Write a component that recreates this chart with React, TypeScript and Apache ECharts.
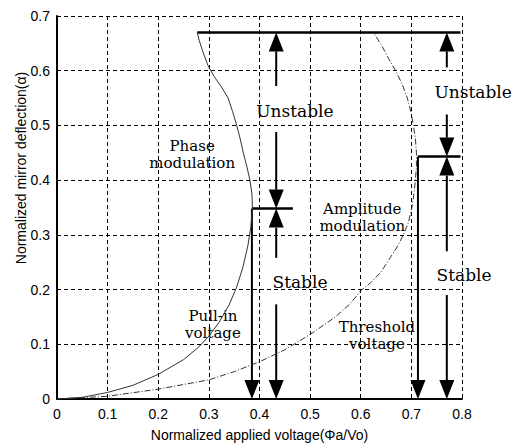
import React, { useEffect, useRef } from "react";
import * as echarts from "echarts";

// Pull-in (phase modulation) curve: [voltage, deflection]
const phaseCurve: number[][] = [
  [0, 0], [0.05, 0.003], [0.1, 0.012], [0.15, 0.025], [0.2, 0.045], [0.25, 0.072],
  [0.28, 0.095], [0.3, 0.115], [0.32, 0.14], [0.34, 0.172], [0.355, 0.205],
  [0.367, 0.24], [0.377, 0.28], [0.383, 0.315], [0.386, 0.35], [0.385, 0.375],
  [0.381, 0.4], [0.375, 0.425], [0.368, 0.45], [0.362, 0.475], [0.355, 0.5],
  [0.347, 0.525], [0.338, 0.55], [0.325, 0.57], [0.31, 0.59], [0.298, 0.61],
  [0.288, 0.635], [0.281, 0.655], [0.277, 0.67],
];

// Threshold (amplitude modulation) curve
const thresholdCurve: number[][] = [
  [0, 0], [0.1, 0.005], [0.2, 0.018], [0.3, 0.035], [0.35, 0.05], [0.4, 0.068],
  [0.45, 0.09], [0.5, 0.118], [0.55, 0.15], [0.58, 0.175], [0.6, 0.198],
  [0.62, 0.213], [0.64, 0.232], [0.658, 0.258], [0.672, 0.278], [0.684, 0.3],
  [0.694, 0.322], [0.701, 0.35], [0.705, 0.375], [0.708, 0.4], [0.71, 0.425],
  [0.71, 0.45], [0.708, 0.475], [0.704, 0.5], [0.699, 0.525], [0.692, 0.55],
  [0.682, 0.575], [0.669, 0.6], [0.655, 0.622], [0.642, 0.645], [0.625, 0.67],
];

// Arrows: [x, yFrom, yTo] (head at yTo)
const arrows: number[][] = [
  [0.433, 0.572, 0.67], [0.433, 0.488, 0.348], [0.433, 0.258, 0.348], [0.433, 0.173, 0],
  [0.385, 0.348, 0], [0.713, 0.443, 0],
  [0.77, 0.606, 0.67], [0.77, 0.52, 0.443], [0.77, 0.27, 0.443], [0.77, 0.19, 0],
];

// Horizontal segments: [x1, y, x2]
const segments: number[][] = [
  [0.277, 0.67, 0.797],
  [0.385, 0.348, 0.466],
  [0.713, 0.443, 0.797],
];

// Annotations: [x, y]
const labelPos: number[][] = [
  [0.47, 0.527], [0.48, 0.214], [0.822, 0.561], [0.804, 0.227],
  [0.267, 0.446], [0.603, 0.332], [0.308, 0.136], [0.632, 0.116],
];
const labelText: string[] = [
  "Unstable", "Stable", "Unstable", "Stable",
  "Phase\nmodulation", "Amplitude\nmodulation", "Pull-in\nvoltage", "Threshold\nvoltage",
];
const labelSize: number[] = [17, 17, 17, 17, 15, 15, 15, 15];

const xAxisName = "Normalized applied voltage(\u03A6a/Vo)";
const yAxisName = "Normalized mirror deflection(\u03B1)";

const tickFont = "'Liberation Sans', Arial, sans-serif";
const serifFont = "'DejaVu Serif', 'Liberation Serif', serif";

export default function App() {
  const ref = useRef<HTMLDivElement>(null);
  useEffect(() => {
    if (!ref.current) return;
    const chart = echarts.init(ref.current, null, { renderer: "svg" });
    const fmt = (v: number) => (v === 0 ? "0" : v.toFixed(1));
    chart.setOption({
      animation: false,
      backgroundColor: "#fff",
      grid: { left: 57, right: 66, top: 16, bottom: 45 },
      graphic: [
        {
          type: "text", x: 21, y: 168, rotation: Math.PI / 2,
          style: {
            text: yAxisName, fill: "#000", font: `14px ${tickFont}`,
            align: "center", verticalAlign: "middle",
            textAlign: "center", textVerticalAlign: "middle",
          },
        },
      ],
      xAxis: {
        type: "value", min: 0, max: 0.8, interval: 0.1,
        name: xAxisName,
        nameLocation: "middle", nameGap: 29,
        nameTextStyle: { color: "#000", fontSize: 14, fontFamily: tickFont },
        axisLine: { show: true, lineStyle: { color: "#000", width: 2 } },
        axisTick: { show: false },
        axisLabel: { color: "#000", fontSize: 14, fontFamily: tickFont, margin: 8, formatter: fmt },
        splitLine: { show: true, lineStyle: { color: "#000", type: [4, 3], width: 1 } },
      },
      yAxis: {
        type: "value", min: 0, max: 0.7, interval: 0.1,
        axisLine: { show: true, lineStyle: { color: "#000", width: 2 } },
        axisTick: { show: false },
        axisLabel: { color: "#000", fontSize: 14, fontFamily: tickFont, margin: 7, formatter: fmt },
        splitLine: { show: true, lineStyle: { color: "#000", type: [4, 3], width: 1 } },
      },
      series: [
        {
          type: "line", data: phaseCurve, showSymbol: false, smooth: false,
          lineStyle: { color: "#333", width: 1 },
        },
        {
          type: "line", data: thresholdCurve, showSymbol: false, smooth: false,
          lineStyle: { color: "#333", width: 1, type: [6, 2, 1, 2] },
        },
        {
          type: "custom", data: segments, clip: false,
          encode: { x: [0, 2], y: 1 },
          renderItem: (params: any, api: any) => {
            const p1 = api.coord([api.value(0), api.value(1)]);
            const p2 = api.coord([api.value(2), api.value(1)]);
            return {
              type: "line",
              shape: { x1: p1[0], y1: p1[1], x2: p2[0], y2: p2[1] },
              style: { stroke: "#000", lineWidth: 2.5 },
            };
          },
        },
        {
          type: "custom", data: arrows, clip: false,
          encode: { x: 0, y: [1, 2] },
          renderItem: (params: any, api: any) => {
            const x = api.value(0);
            const p1 = api.coord([x, api.value(1)]);
            const p2 = api.coord([x, api.value(2)]);
            const dir = Math.sign(p2[1] - p1[1]);
            const h = 19, w = 7.5;
            const base = p2[1] - dir * h;
            return {
              type: "group",
              children: [
                { type: "line", shape: { x1: p1[0], y1: p1[1], x2: p2[0], y2: base }, style: { stroke: "#000", lineWidth: 2 } },
                { type: "polygon", shape: { points: [[p2[0], p2[1]], [p2[0] - w, base], [p2[0] + w, base]] }, style: { fill: "#000" } },
              ],
            };
          },
        },
        {
          type: "custom", data: labelPos, clip: false,
          encode: { x: 0, y: 1 },
          renderItem: (params: any, api: any) => {
            const i = params.dataIndex;
            const p = api.coord([api.value(0), api.value(1)]);
            const s = labelSize[i];
            return {
              type: "text", x: p[0], y: p[1],
              style: {
                text: labelText[i], fill: "#000",
                font: `${s}px ${serifFont}`,
                fontSize: s, fontFamily: serifFont,
                lineHeight: s < 16 ? 17 : 20,
                align: "center", verticalAlign: "middle",
                textAlign: "center", textVerticalAlign: "middle",
              },
            };
          },
        },
      ],
    });
    return () => chart.dispose();
  }, []);
  return <div ref={ref} style={{ position: "fixed", left: 0, top: 0, width: 528, height: 447 }} />;
}
